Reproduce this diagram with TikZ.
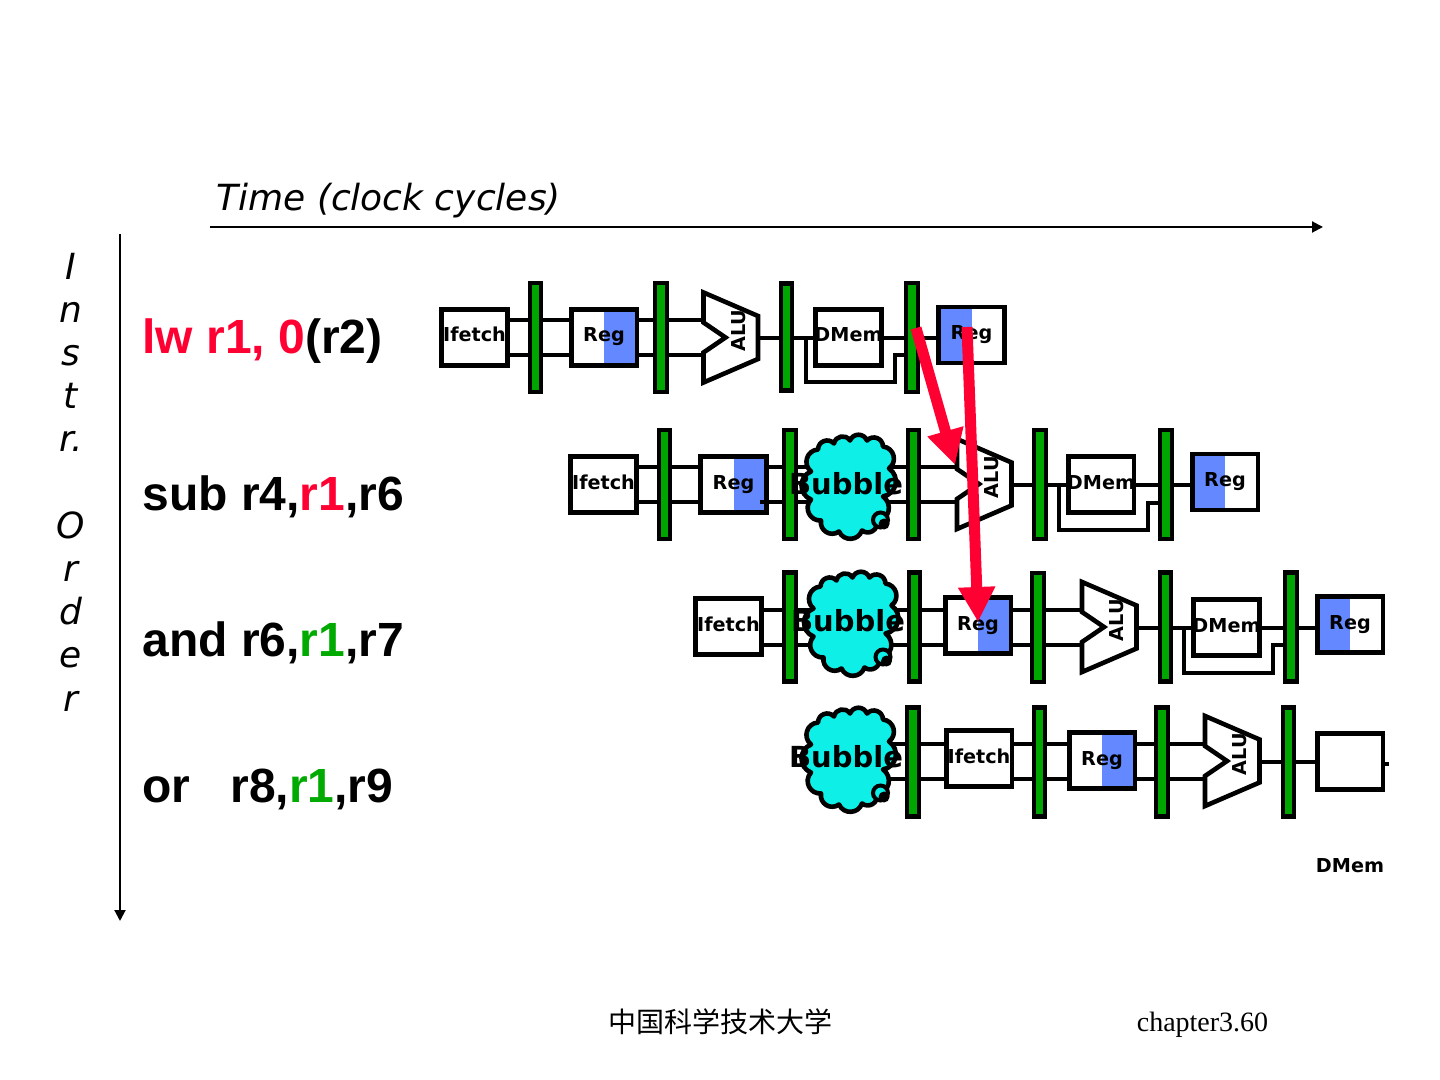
\documentclass[tikz,border=0pt]{standalone}
\usepackage{fontspec}
\usetikzlibrary{arrows.meta, backgrounds}
\newfontfamily\dejavuf{DejaVu Sans}
\newfontfamily\arialf{Liberation Sans}
\newfontfamily\timesf{Liberation Serif}
\newfontfamily\cjkf{Noto Sans CJK SC}
\definecolor{latchgreen}{HTML}{00A600}
\definecolor{regblue}{HTML}{6388FF}
\definecolor{hazred}{HTML}{FF0033}
\definecolor{fwdgreen}{HTML}{00AA00}
\definecolor{bubcyan}{HTML}{0EEFE8}

\begin{document}
\begin{tikzpicture}[
  x=0.5pt, y=-0.5pt,
  >={Triangle[length=5.5pt, width=5.5pt]},
  axis/.style={->, line width=1pt, black},
  wire/.style={line width=2pt, black},
  latch/.style={draw=black, line width=2.1pt, fill=latchgreen, inner sep=0pt,
    minimum width=5.8pt, minimum height=54.5pt},
  pbox/.style={draw=black, line width=2.3pt, fill=white, inner sep=0pt,
    minimum width=32.8pt, minimum height=28pt, text height=7.5pt, text depth=3pt,
    font=\dejavuf\fontsize{9.6}{11}\selectfont\bfseries},
  rdreg/.style={pbox, path picture={\fill[regblue] (path picture bounding box.north)
    rectangle (path picture bounding box.south east);}},
  wrreg/.style={pbox, path picture={\fill[regblue] (path picture bounding box.north)
    rectangle (path picture bounding box.south west);}},
  instr/.style={anchor=base west, inner sep=0pt, font=\arialf\fontsize{24}{28}\selectfont\bfseries},
  puff/.style={bend left=68, looseness=1.25},
  bubtail/.style={circle, draw=black, line width=2pt, fill=bubcyan, inner sep=0pt,
    minimum size=7.5pt},
  bubdot/.style={circle, fill=black, inner sep=0pt, minimum size=5.5pt},
  bubtext/.style={font=\dejavuf\fontsize{14.5}{17}\selectfont\bfseries, text=black},
  hazard/.style={-{Triangle[length=17.5pt, width=17.5pt]}, line width=5.5pt, hazred},
  alupic/.pic={
    \draw[line width=2.3pt, fill=white] (-27,-45) -- (27.5,-21.5) -- (27.5,21.5) -- (-27,45)
      -- (-27,15) -- (-5,0) -- (-27,-15) -- cycle;
    \node[rotate=90, font=\dejavuf\fontsize{9.6}{11}\selectfont\bfseries] (-lbl) at (8,-7) {ALU};
    \coordinate (-up) at (-27,-17.5);
    \coordinate (-dn) at (-27,17.5);
    \coordinate (-out) at (27,0.5);
  },
  bubpic/.pic={
    \draw[line width=2.3pt, line join=round, fill=bubcyan] (-29,-37)
      to[puff] (-13,-43) to[puff] (3,-46) to[puff] (20,-46) to[puff] (36,-40)
      to[puff] (42,-18) to[puff] (36,10) to[puff] (30,35) to[puff] (15,44)
      to[puff] (-8,45) to[puff] (-26,34) to[puff] (-36,13) to[puff] (-36,-15)
      to[puff] (-29,-37) -- cycle;
    \node[bubtail] (-tail) at (33.5,33.5) {};
    \node[bubdot] (-dot) at (37,37.5) {};
    \coordinate (-c) at (0,0);
  },
]
\useasboundingbox (0,0) rectangle (1440,1080);

% Axes
\node[anchor=base west, inner sep=0pt, font=\dejavuf\fontsize{18}{22}\selectfont\itshape] (timelbl) at (216,211) {Time (clock cycles)};
\coordinate (timea) at (210,227);
\coordinate (timeb) at (1323,227);
\draw[axis] (timea) -- (timeb);
\coordinate (ordera) at (120,234);
\coordinate (orderb) at (120,921);
\draw[axis] (ordera) -- (orderb);
\node[align=center, font=\dejavuf\fontsize{18}{21.6}\selectfont\itshape] (orderlbl) at (71,482)
  {I\\n\\s\\t\\r.\\[21.6pt]O\\r\\d\\e\\r};

% Instructions
\node[instr] (insa) at (142,354) {\textcolor{hazred}{lw r1, 0}(r2)};
\node[instr] (insb) at (142,510) {sub r4,\textcolor{hazred}{r1},r6};
\node[instr] (insc) at (142,656) {and r6,\textcolor{fwdgreen}{r1},r7};
\node[instr] (insd) at (142,802) {or\ \ \ r8,\textcolor{fwdgreen}{r1},r9};

% === Row a ===
\node[pbox] (ifa) at (474.5,337.5) {Ifetch};
\node[latch] (lata1) at (535.5,337.5) {};
\node[rdreg] (rega) at (604,337.5) {Reg};
\node[latch] (lata2) at (661,337.5) {};
\pic (alua) at (730.5,337.5) {alupic};
\node[latch, minimum height=53.5pt] (lata3) at (786.5,337) {};
\node[pbox] (dma) at (848.5,337.5) {\makebox[0pt]{DMem}};
\node[latch] (lata4) at (912,337.5) {};
\node[wrreg] (wra) at (971.5,335) {Reg};
\coordinate (tapa) at (806,338);
\coordinate (bota) at (895,382);
\begin{scope}[on background layer]
  \draw[wire] (alua-up -| ifa.east) -- (alua-up);
  \draw[wire] (alua-dn -| ifa.east) -- (alua-dn);
  \draw[wire] (alua-out) -- (alua-out -| wra.west);
  \draw[wire] (tapa) |- (bota) |- ([yshift=-9pt]lata4.center);
\end{scope}

% === Row b ===
\node[pbox] (ifb) at (603.5,484.5) {Ifetch};
\node[latch] (latb1) at (664.5,484.5) {};
\node[rdreg] (regb) at (733.5,484.5) {Reg};
\node[latch] (latb2) at (790,484.5) {};
\node[latch] (latb3) at (913.5,484.5) {};
\pic (alub) at (984,484) {alupic};
\node[latch] (latb4) at (1040,484.5) {};
\node[pbox] (dmb) at (1101,484.5) {\makebox[0pt]{DMem}};
\node[latch] (latb5) at (1166,484.5) {};
\node[wrreg] (wrb) at (1225,482) {Reg};
\coordinate (tapb) at (1059,484.5);
\coordinate (botb) at (1148,530);
\coordinate (stubb) at (760,501.5);
\begin{scope}[on background layer]
  \draw[wire] (alub-up -| ifb.east) -- (alub-up);
  \draw[wire] (alub-dn -| ifb.east) -- (alub-dn);
  \draw[wire] (alub-out) -- (alub-out -| wrb.west);
  \draw[wire] (tapb) |- (botb) |- ([yshift=-9pt]latb5.center);
\end{scope}
\draw[wire] (stubb) -- (stubb -| regb.east);

% === Row c ===
\node[pbox] (ifc) at (728.5,626.5) {Ifetch};
\node[latch] (latc1) at (790,627) {};
\node[latch] (latc2) at (914.5,627) {};
\node[rdreg] (regc) at (978,625.5) {Reg};
\node[latch] (latc3) at (1038,627.5) {};
\pic (aluc) at (1109,627) {alupic};
\node[latch] (latc4) at (1165.5,627) {};
\node[pbox] (dmc) at (1226.5,627.5) {\makebox[0pt]{DMem}};
\node[latch] (latc5) at (1291,627) {};
\node[wrreg] (wrc) at (1350,624.5) {Reg};
\coordinate (tapc) at (1184,627);
\coordinate (botc) at (1273,673);
\begin{scope}[on background layer]
  \draw[wire] (aluc-up -| ifc.east) -- (aluc-up);
  \draw[wire] (aluc-dn -| ifc.east) -- (aluc-dn);
  \draw[wire] (aluc-out) -- (aluc-out -| wrc.west);
  \draw[wire] (tapc) |- (botc) |- ([yshift=-9pt]latc5.center);
\end{scope}

% === Row d ===
\node[latch] (latd1) at (913,762) {};
\node[pbox] (ifd) at (979,758.5) {Ifetch};
\node[latch] (latd2) at (1039.5,762) {};
\node[rdreg] (regd) at (1102,760.5) {Reg};
\node[latch] (latd3) at (1162,762) {};
\pic (alud) at (1232,761) {alupic};
\node[latch] (latd4) at (1288.5,762) {};
\node[pbox] (boxd) at (1350,761.5) {};
\coordinate (stubd) at (1389,764);
\node[font=\dejavuf\fontsize{9.6}{11}\selectfont\bfseries] (dmd) at (1350,866) {DMem};

% Bubbles
\pic (cloudb) at (847,486.5) {bubpic};
\node[bubtext] (bubb) at (846,484) {Bubble};
\pic (cloudc) at (849.5,623.5) {bubpic};
\node[bubtext] (bubc) at (848,621) {Bubble};
\pic (cloudd) at (847,759.5) {bubpic};
\node[bubtext] (bubd) at (846,757) {Bubble};
\begin{scope}[on background layer]
  \draw[wire] (alud-up -| cloudd-c) -- (alud-up);
  \draw[wire] (alud-dn -| cloudd-c) -- (alud-dn);
  \draw[wire] (alud-out) -- (alud-out -| boxd.west);
\end{scope}
\draw[wire] (stubd -| boxd.east) -- (stubd);

% Hazard arrows
\coordinate (fwdsrc) at (916,328);
\coordinate (fwdalu) at (955,465);
\coordinate (regsrc) at (967,327);
\coordinate (fwdreg) at (978,622);
\draw[hazard] (fwdsrc) -- (fwdalu);
\draw[hazard] (regsrc) -- (fwdreg);

% Footer
\node[font=\cjkf\fontsize{14}{17}\selectfont] (footcn) at (720.5,1021.5) {中国科学技术大学};
\node[font=\timesf\fontsize{14}{17}\selectfont] (footpg) at (1202.5,1025) {chapter3.60};
\end{tikzpicture}
\end{document}
